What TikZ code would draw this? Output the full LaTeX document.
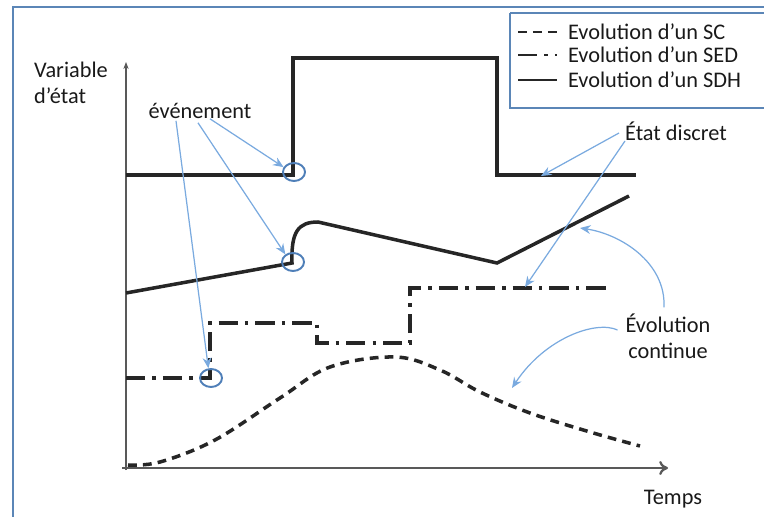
\documentclass[tikz,border=0pt]{standalone}
\usepackage{fontspec}
\setmainfont{Carlito}
\usetikzlibrary{positioning,calc,shapes.geometric,arrows.meta}

\definecolor{cadrebleu}{HTML}{5B86B7}
\definecolor{flechebleu}{HTML}{7AAADF}
\definecolor{cerclebleu}{HTML}{4F7FB8}

\tikzset{
  txt/.style={font=\fontsize{12.7}{15}\selectfont, text=black!90, inner sep=1pt},
  cadre/.style={draw=cadrebleu, line width=1.6pt},
  axe/.style={draw=black!65, line width=1.3pt},
  sdh/.style={draw=black!85, line width=2pt},
  sed/.style={draw=black!85, line width=2pt, dash pattern=on 11pt off 4pt on 2pt off 4pt},
  sc/.style={draw=black!85, line width=2pt, dash pattern=on 5pt off 3.5pt},
  evt/.style={ellipse, draw=cerclebleu, line width=1.1pt, minimum width=0.44cm, minimum height=0.36cm, inner sep=0pt},
  fleche/.style={draw=flechebleu, line width=0.7pt, -{Stealth[length=6pt, width=5pt]}}
}

\begin{document}
\begin{tikzpicture}[x=0.02cm, y=-0.02cm]
  \useasboundingbox (0,0) rectangle (764,517);

  % cadre de la figure et legende
  \draw[cadre] (13,517) -- (13,7) -- (764,7);
  \draw[cadre] (510,13) -- (510,108) -- (764,108);
  \draw[cadre] (510,13) -- (764,13);
  \foreach \y/\sty/\nom in {32/sc/SC, 55/sed/SED, 80/sdh/SDH} {
    \draw[\sty, line width=1.4pt] (518,\y) -- (557,\y);
    \node[txt, anchor=west] (leg\nom) at (566,\y) {Evolution d’un \nom};
  }

  % axes
  \coordinate (O) at (126,468);
  \coordinate (ytop) at (126,62);
  \coordinate (xend) at (668,468);
  \draw[axe, -{Stealth[length=4pt, width=3pt]}] ($(O)+(0,2)$) -- (ytop);
  \draw[axe, -{To[length=5pt, width=8pt]}] ($(O)+(-4,0)$) -- (xend);
  \node[txt, anchor=north west, align=left] (var) at (32,60) {Variable\\d’état};
  \node[txt] (temps) at (673,499) {Temps};

  % evolutions
  \draw[sdh] (126,175) -- (293,175) -- (293,58) -- (497,58) -- (497,175) -- (636,175);
  \draw[sdh] (126,293) -- (292,263) .. controls (291,232) and (298,222) .. (318,222)
    -- (497,263) -- (629,196);
  \draw[sed] (126,378) -- (210,378) -- (210,323) -- (317,323) -- (317,343)
    -- (410,343) -- (410,288) -- (607,288);
  \draw[sc] plot[smooth, tension=0.6] coordinates {(128,465) (160,462) (215,440)
    (280,398) (330,367) (395,357) (440,370) (480,392) (530,413) (590,432) (640,446)};

  % evenements
  \node[evt] (ev1) at (294,172) {};
  \node[evt] (ev2) at (293,262) {};
  \node[evt] (ev3) at (211,378) {};
  \node[txt] (evenement) at (200,111) {événement};
  \draw[fleche] ($(evenement.south)+(10,-2)$) -- (ev1.155);
  \draw[fleche] ($(evenement.south)+(-2,2)$) -- (ev2.135);
  \draw[fleche] ($(evenement.south)+(-24,0)$) -- (ev3.105);

  % etats discrets
  \coordinate (d1) at (541,176);
  \coordinate (d2) at (525,287);
  \node[txt] (discret) at (676,131) {État discret};
  \draw[fleche] ($(discret.west)+(-4,2)$) -- (d1);
  \draw[fleche] ($(discret.west)+(2,10)$) -- (d2);

  % evolutions continues
  \coordinate (c1) at (580,228);
  \coordinate (c2) at (512,388);
  \node[txt, align=center] (evol) at (668,336) {Évolution\\continue};
  \draw[fleche] ($(evol.north)+(-4,-4)$) .. controls (666,262) and (620,234) .. (c1);
  \draw[fleche] ($(evol.west)+(-6,-6)$) .. controls (596,320) and (545,338) .. (c2);
\end{tikzpicture}
\end{document}
